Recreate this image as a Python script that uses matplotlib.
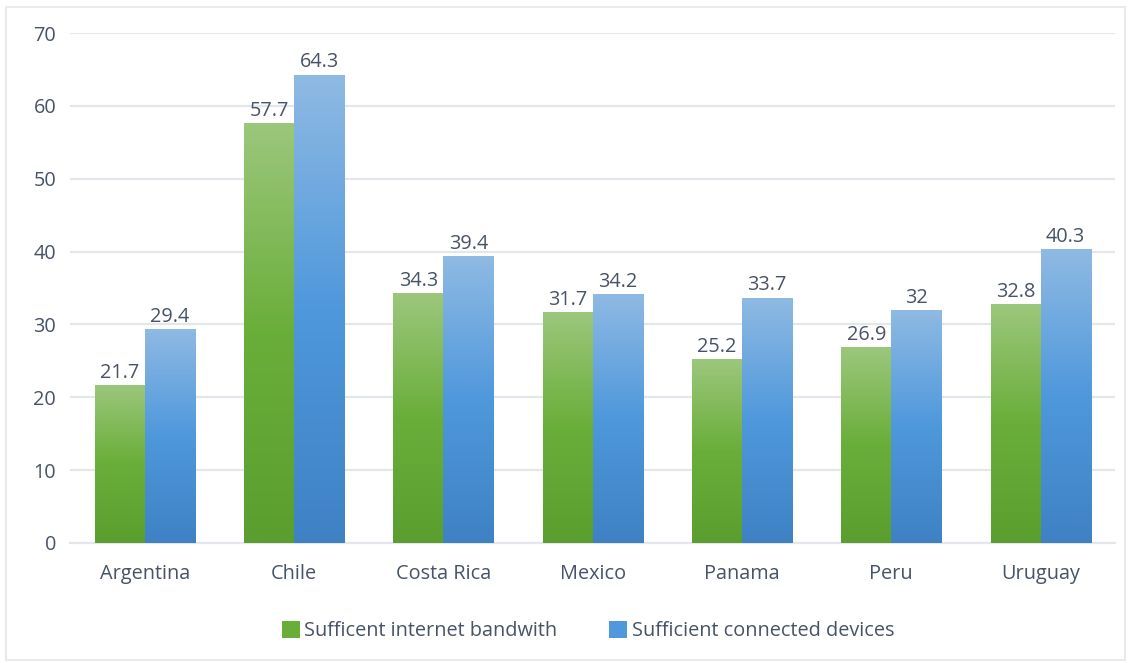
import matplotlib
matplotlib.use("Agg")
import matplotlib.pyplot as plt
import numpy as np
from matplotlib.colors import LinearSegmentedColormap
from matplotlib.patches import Patch, Rectangle

countries = ["Argentina", "Chile", "Costa Rica", "Mexico", "Panama", "Peru", "Uruguay"]
bandwidth = [21.7, 57.7, 34.3, 31.7, 25.2, 26.9, 32.8]
devices = [29.4, 64.3, 39.4, 34.2, 33.7, 32, 40.3]
series_names = ["Sufficent internet bandwith", "Sufficient connected devices"]

TEXT = "#475366"
FS = 14.3
GREEN_CMAP = LinearSegmentedColormap.from_list("g", ["#5a9e2f", "#6aae3a", "#9cc77c"])
BLUE_CMAP = LinearSegmentedColormap.from_list("b", ["#3e82c4", "#4f98dc", "#8fbae3"])

plt.rcParams["font.family"] = ["Open Sans", "DejaVu Sans"]

fig = plt.figure(figsize=(11.31, 6.63), dpi=100)
ax = fig.add_axes([0.062, 0.181, 0.924, 0.769])

x = np.arange(len(countries))
w = 0.335
grad = np.linspace(0, 1, 256).reshape(-1, 1)


def gradient_bars(xs, vals, cmap):
    bars = ax.bar(xs, vals, w, color="none", edgecolor="none", zorder=3)
    for bar in bars:
        x0, h = bar.get_x(), bar.get_height()
        im = ax.imshow(grad, cmap=cmap, origin="lower", aspect="auto",
                       extent=(x0, x0 + w, 0, h), zorder=3)
        clip = Rectangle((x0, 0), w, h, transform=ax.transData)
        im.set_clip_path(clip)
    return bars


b1 = gradient_bars(x - w / 2, bandwidth, GREEN_CMAP)
b2 = gradient_bars(x + w / 2, devices, BLUE_CMAP)

for bars, vals in ((b1, bandwidth), (b2, devices)):
    for bar, v in zip(bars, vals):
        ax.text(bar.get_x() + w / 2, v + 0.3, f"{v:g}", ha="center", va="bottom",
                fontsize=FS, color=TEXT, zorder=4)

ax.set_xlim(-0.5, len(countries) - 0.5)
ax.set_ylim(0, 70)
ax.set_yticks(range(0, 71, 10))
ax.set_xticks(x)
ax.set_xticklabels(countries)
ax.tick_params(axis="both", length=0, labelsize=FS, labelcolor=TEXT)
ax.tick_params(axis="x", pad=15)
ax.tick_params(axis="y", pad=10)
ax.grid(axis="y", color="#e3e6eb", linewidth=1.6, zorder=0)
for s in ("top", "right", "left"):
    ax.spines[s].set_visible(False)
ax.spines["bottom"].set_color("#e3e6eb")
ax.spines["bottom"].set_linewidth(1.6)

handles = [Patch(facecolor="#6aae3a"), Patch(facecolor="#4f98dc")]
fig.legend(handles, series_names, loc="center", bbox_to_anchor=(0.52, 0.048), ncol=2,
           frameon=False, fontsize=FS, labelcolor=TEXT, handlelength=0.9,
           handleheight=0.9, handletextpad=0.25, columnspacing=2.6)

fig.patches.append(Rectangle((0.005, 0.005), 0.99, 0.985, transform=fig.transFigure,
                             fill=False, edgecolor="#e8eaed", linewidth=1.5))

fig.savefig("out.png", dpi=100)
